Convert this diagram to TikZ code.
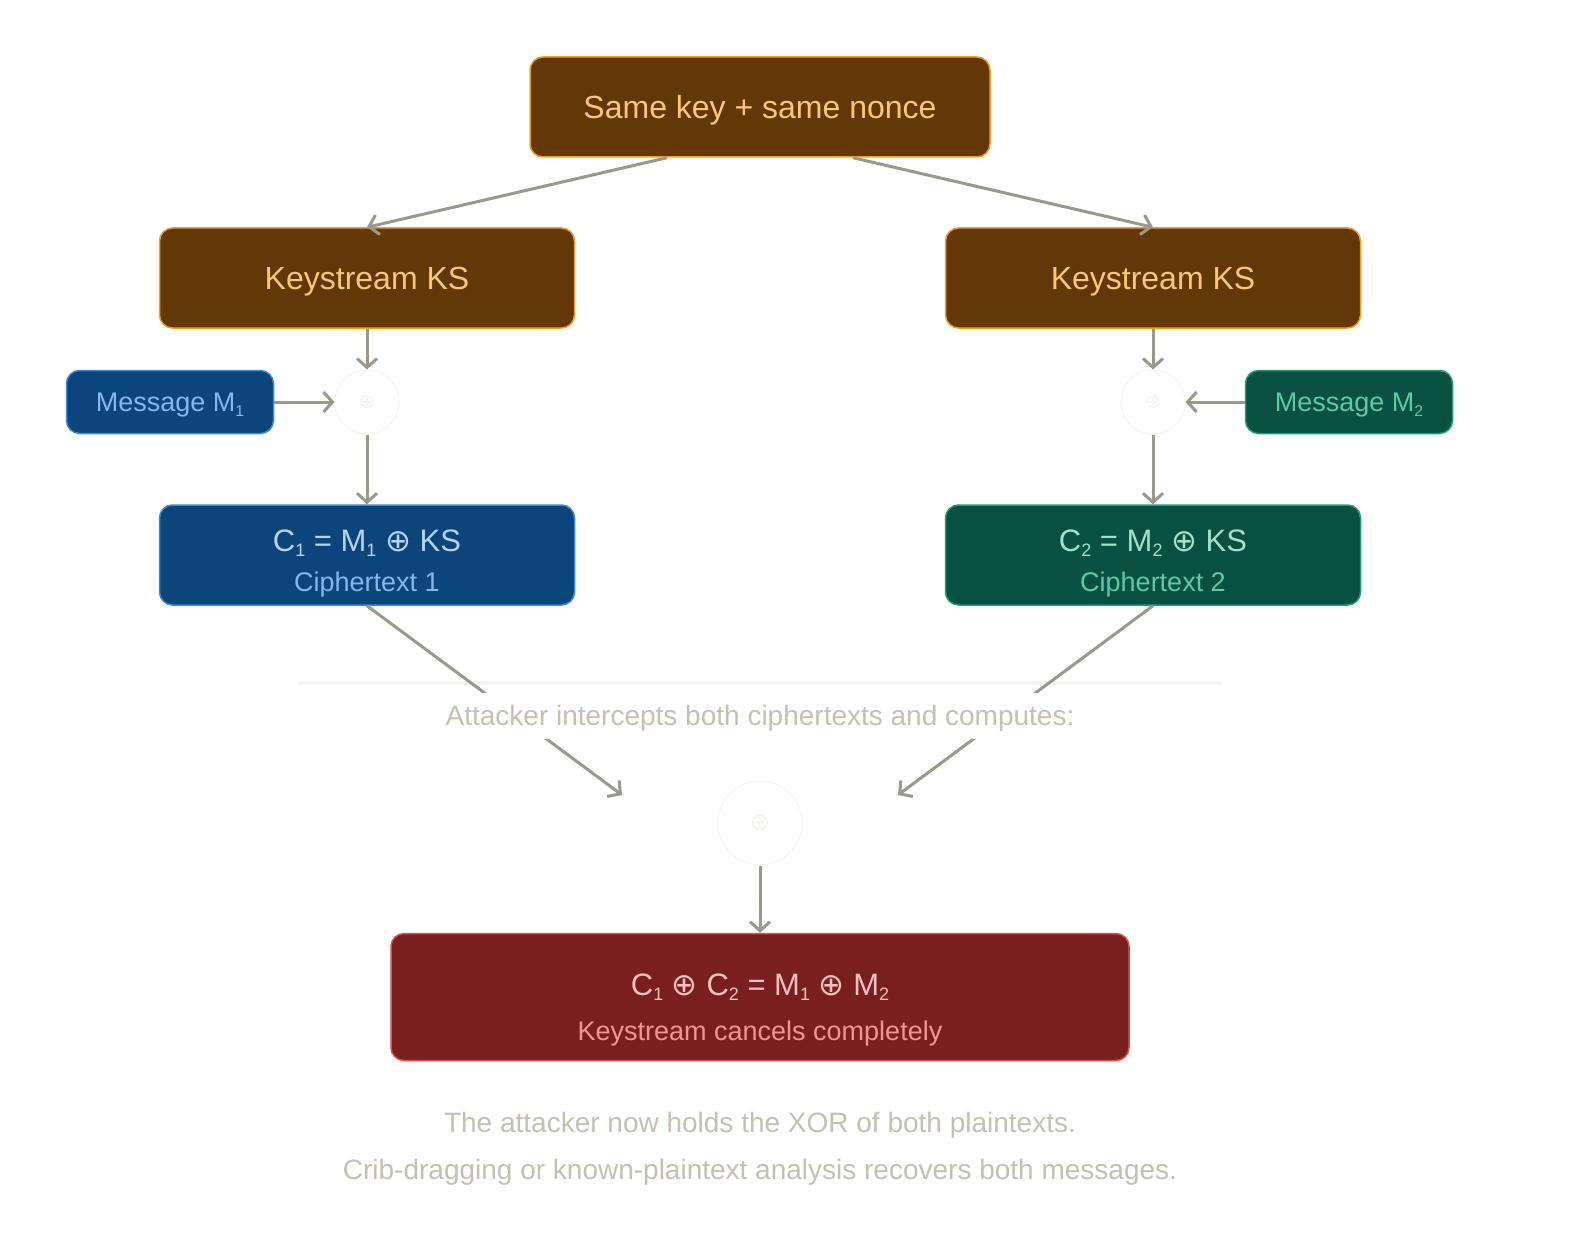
\documentclass[tikz,border=0pt]{standalone}
\usepackage{fontspec}
\setmainfont{Liberation Sans}
\newfontfamily\symf{DejaVu Sans}
\usetikzlibrary{arrows.meta,calc}
\definecolor{amberfill}{HTML}{633806}
\definecolor{amberline}{HTML}{EF9F27}
\definecolor{ambertext}{HTML}{FAC775}
\definecolor{bluefill}{HTML}{0C447C}
\definecolor{blueline}{HTML}{378ADD}
\definecolor{bluetext}{HTML}{85B7EB}
\definecolor{bluelight}{HTML}{B5D4F4}
\definecolor{tealfill}{HTML}{085041}
\definecolor{tealline}{HTML}{1D9E75}
\definecolor{tealtext}{HTML}{5DCAA5}
\definecolor{teallight}{HTML}{9FE1CB}
\definecolor{redfill}{HTML}{791F1F}
\definecolor{redline}{HTML}{E24B4A}
\definecolor{redtext}{HTML}{F09595}
\definecolor{redlight}{HTML}{F7C1C1}
\definecolor{arrowgrey}{HTML}{9C9890}
\definecolor{fainttext}{HTML}{C6BFB6}
\definecolor{faintline}{HTML}{F6F4F1}
\newcommand{\xo}{{\symf ⊕}}
\newcommand{\sbs}[1]{\raisebox{-0.3ex}{\fontsize{0.58em}{0.58em}\selectfont #1}}
\newcommand{\tup}[1]{\rule{0pt}{#1}}
\begin{document}
\begin{tikzpicture}[x=1pt,y=-1pt,
  box/.style={draw, line width=1.5pt, rounded corners=13pt, align=center, inner sep=0pt},
  amberbox/.style={box, fill=amberfill, draw=amberline, text=ambertext, font=\fontsize{32}{38}\selectfont},
  bluebox/.style={box, fill=bluefill, draw=blueline, text=bluetext},
  tealbox/.style={box, fill=tealfill, draw=tealline, text=tealtext},
  redbox/.style={box, fill=redfill, draw=redline, text=redtext},
  xorc/.style={circle, draw=faintline, line width=1pt, fill=white, text=faintline, inner sep=0pt},
  conn/.style={draw=arrowgrey, line width=3pt, -{Straight Barb[length=9pt,width=20pt,line width=3pt]}},
  faint/.style={text=fainttext, font=\fontsize{28}{32}\selectfont}
]
\useasboundingbox[fill=white] (0,0) rectangle (1574,1252);

% nodes
\node[amberbox, minimum width=460pt, minimum height=100pt] (top) at (760,107) {\tup{29pt}Same key + same nonce};
\node[amberbox, minimum width=415pt, minimum height=100pt] (ksl) at (367,278) {\tup{29pt}Keystream KS};
\node[amberbox, minimum width=415pt, minimum height=100pt] (ksr) at (1153,278) {\tup{29pt}Keystream KS};

\node[bluebox, minimum width=207pt, minimum height=63pt, font=\fontsize{27}{30}\selectfont] (m1) at (170,402) {\tup{25.5pt}Message M\sbs{1}};
\node[tealbox, minimum width=207pt, minimum height=63pt, font=\fontsize{27}{30}\selectfont] (m2) at (1349,402) {\tup{25.5pt}Message M\sbs{2}};

\node[xorc, minimum size=64pt, font=\fontsize{20}{20}\selectfont] (xl) at (367,402) {\xo};
\node[xorc, minimum size=64pt, font=\fontsize{20}{20}\selectfont] (xr) at (1153,402) {\xo};

\node[bluebox, minimum width=415pt, minimum height=100pt, font=\fontsize{31}{40}\selectfont] (c1) at (367,555)
  {\tup{38pt}{\color{bluelight}C\sbs{1} = M\sbs{1} \xo{} KS}\\{\fontsize{27}{40}\selectfont Ciphertext 1}};
\node[tealbox, minimum width=415pt, minimum height=100pt, font=\fontsize{31}{40}\selectfont] (c2) at (1153,555)
  {\tup{38pt}{\color{teallight}C\sbs{2} = M\sbs{2} \xo{} KS}\\{\fontsize{27}{40}\selectfont Ciphertext 2}};

\node[xorc, minimum size=84pt, font=\fontsize{24}{24}\selectfont] (xc) at (760,823) {\xo};

\node[redbox, minimum width=738pt, minimum height=127pt, font=\fontsize{31}{45}\selectfont] (res) at (760,997)
  {\tup{48pt}{\color{redlight}C\sbs{1} \xo{} C\sbs{2} = M\sbs{1} \xo{} M\sbs{2}}\\{\fontsize{27}{45}\selectfont Keystream cancels completely}};

\coordinate (el) at (622,795);
\coordinate (er) at (898,795);

% divider
\draw[faintline, line width=4pt] (298,683) -- (1222,683);

% connectors
\draw[conn] ([xshift=-93pt]top.south) -- (ksl.north);
\draw[conn] ([xshift=93pt]top.south) -- (ksr.north);
\draw[conn] (ksl.south) -- (xl.north);
\draw[conn] (m1.east) -- (xl.west);
\draw[conn] (xl.south) -- (c1.north);
\draw[conn] (ksr.south) -- (xr.north);
\draw[conn] (m2.west) -- (xr.east);
\draw[conn] (xr.south) -- (c2.north);
\draw[conn] (c1.south) -- (el);
\draw[conn] (c2.south) -- (er);
\draw[conn] (xc.south) -- (res.north);

% label over the edges
\node[faint, fill=white, minimum height=46pt, inner xsep=4pt] (lab) at (760,716) {\tup{24pt}Attacker intercepts both ciphertexts and computes:};

\node[faint] (n1) at (760,1125) {The attacker now holds the XOR of both plaintexts.};
\node[faint] (n2) at (760,1172) {Crib-dragging or known-plaintext analysis recovers both messages.};
\end{tikzpicture}
\end{document}
